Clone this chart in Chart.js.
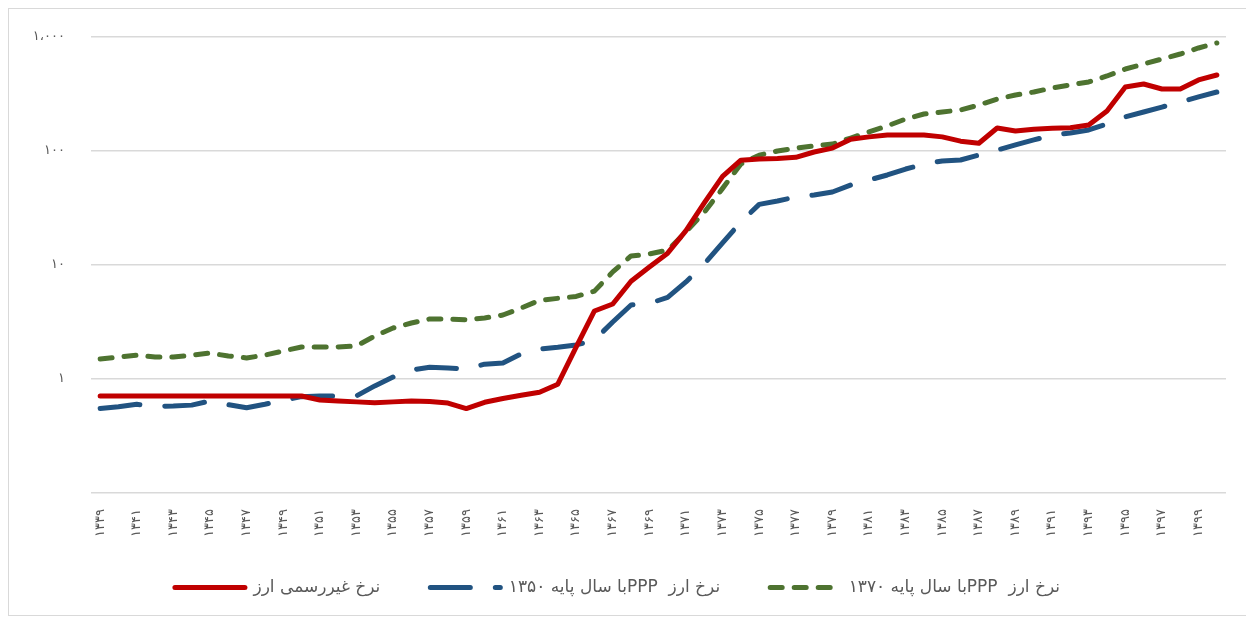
<!DOCTYPE html>
<html>
<head>
<meta charset="utf-8">
<script src="https://cdn.jsdelivr.net/npm/chart.js@4"></script>
<style>
  html, body { margin: 0; padding: 0; background: #fff; overflow: hidden; }
  #wrap {
    position: absolute; left: 8px; top: 8px;
    width: 1240px; height: 608px;
    border: 1px solid #d9d9d9; box-sizing: border-box;
  }
</style>
</head>
<body>
<div id="wrap"><canvas id="rateChart"></canvas></div>
<script>
// ************** categories (solar years) *******************
const years = [1339, 1340, 1341, 1342, 1343, 1344, 1345, 1346, 1347, 1348,
  1349, 1350, 1351, 1352, 1353, 1354, 1355, 1356, 1357, 1358,
  1359, 1360, 1361, 1362, 1363, 1364, 1365, 1366, 1367, 1368,
  1369, 1370, 1371, 1372, 1373, 1374, 1375, 1376, 1377, 1378,
  1379, 1380, 1381, 1382, 1383, 1384, 1385, 1386, 1387, 1388,
  1389, 1390, 1391, 1392, 1393, 1394, 1395, 1396, 1397, 1398,
  1399, 1400];

// unofficial (market) rate
const marketRate = [0.71, 0.71, 0.71, 0.71, 0.71, 0.71, 0.71, 0.71, 0.71, 0.71,
  0.71, 0.71, 0.655, 0.64, 0.63, 0.62, 0.63, 0.64, 0.635, 0.615,
  0.55, 0.625, 0.675, 0.72, 0.765, 0.9, 1.9, 3.95, 4.55, 7.2,
  9.6, 12.7, 20, 35, 60, 83, 85, 86, 88, 98,
  106, 127, 133, 138, 138, 138, 133, 122, 117, 159,
  150, 155, 158, 160, 169, 224, 364, 387, 350, 350,
  420, 464];

// PPP rate, base year 1350
const ppp1350 = [0.55, 0.57, 0.6, 0.575, 0.58, 0.59, 0.64, 0.595, 0.56, 0.6,
  0.65, 0.7, 0.71, 0.71, 0.71, 0.87, 1.04, 1.2, 1.27, 1.25,
  1.22, 1.35, 1.38, 1.66, 1.83, 1.9, 1.99, 2.2, 3.16, 4.46,
  4.6, 5.2, 7.1, 10.2, 15.6, 23.9, 34, 36.4, 39.5, 41.1,
  43.7, 50.3, 55.7, 61.6, 69.5, 76.9, 81.7, 83.4, 92.2, 102,
  113, 125, 138, 144, 153, 173, 199, 220, 243, 269,
  298, 329];

// PPP rate, base year 1370
const ppp1370 = [1.5, 1.56, 1.62, 1.56, 1.56, 1.62, 1.69, 1.59, 1.53, 1.62,
  1.76, 1.91, 1.91, 1.91, 1.95, 2.38, 2.8, 3.1, 3.36, 3.36,
  3.3, 3.43, 3.64, 4.2, 4.9, 5.1, 5.3, 5.9, 8.7, 12,
  12.5, 13.5, 19.5, 29, 47, 77, 92, 100, 106, 111,
  115, 130, 147, 166, 191, 211, 220, 229, 253, 286,
  310, 329, 357, 380, 403, 455, 524, 580, 641, 709,
  801, 886];

// y axis (log) ticks
const yTickValues = [0.1, 1, 10, 100, 1000];
const yTickLabels = ['', '۱', '۱۰', '۱۰۰', '۱،۰۰۰'];

const seriesNames = ['نرخ غیررسمی ارز', 'نرخ ارز  PPPبا سال پایه ۱۳۵۰', 'نرخ ارز  PPPبا سال پایه ۱۳۷۰'];

function toFa(s) {
  return String(s).replace(/\d/g, d => '۰۱۲۳۴۵۶۷۸۹'[d]);
}

const textColor = '#595959';
const faFont = 'DejaVu Sans';

// legend padding also spaces the items apart, so pull the row back up a bit
// and let its (clipped) box run to the bottom of the canvas
const liftLegend = {
  id: 'liftLegend',
  afterLayout(chart) {
    chart.legend.top -= 10;
    chart.legend.bottom = chart.height;
  }
};

new Chart(document.getElementById('rateChart'), {
  type: 'line',
  data: {
    labels: years.map(String),
    datasets: [{
      label: seriesNames[0],
      data: marketRate,
      borderColor: '#C00000',
      backgroundColor: '#C00000',
      borderWidth: 5
    }, {
      label: seriesNames[1],
      data: ppp1350,
      borderColor: '#215381',
      backgroundColor: '#215381',
      borderWidth: 5,
      borderDash: [40, 25]
    }, {
      label: seriesNames[2],
      data: ppp1370,
      borderColor: '#4E7330',
      backgroundColor: '#4E7330',
      borderWidth: 5,
      borderDash: [12, 12]
    }]
  },
  options: {
    responsive: true,
    maintainAspectRatio: false,
    animation: false,
    datasets: {
      line: {
        pointRadius: 0,
        tension: 0,
        fill: false,
        borderCapStyle: 'round',
        borderJoinStyle: 'round'
      }
    },
    layout: { padding: { top: 28, right: 21, bottom: 36, left: 0 } },
    plugins: {
      tooltip: { enabled: false },
      legend: {
        position: 'bottom',
        textDirection: 'rtl',
        maxHeight: 40,
        labels: {
          usePointStyle: true,
          pointStyleWidth: 70,
          padding: 50,
          color: textColor,
          font: { family: faFont, size: 17 },
          // draw each swatch as the series line, dashes included
          generateLabels: chart => chart.data.datasets.map((ds, i) => ({
            text: ds.label,
            datasetIndex: i,
            hidden: false,
            fontColor: textColor,
            fillStyle: ds.borderColor,
            strokeStyle: ds.borderColor,
            lineWidth: ds.borderWidth,
            lineDash: ds.borderDash || [],
            lineCap: 'round',
            pointStyle: 'line'
          }))
        }
      }
    },
    scales: {
      x: {
        offset: true,
        grid: { display: false },
        border: { display: false },
        ticks: {
          autoSkip: false,
          minRotation: 90,
          maxRotation: 90,
          padding: 8,
          color: textColor,
          font: { family: faFont, size: 13 },
          callback: (v, i) => (i % 2 === 0 ? toFa(years[i]) : '')
        },
        afterFit: scale => { scale.height = 46; }
      },
      y: {
        type: 'logarithmic',
        min: 0.1,
        max: 1000,
        afterBuildTicks: scale => {
          scale.ticks = yTickValues.map(v => ({ value: v }));
        },
        ticks: {
          padding: 0,
          color: textColor,
          font: { family: faFont, size: 13 },
          callback: (v, i) => yTickLabels[i]
        },
        grid: {
          color: '#d9d9d9',
          lineWidth: 1.5,
          drawTicks: true,
          tickLength: 26,
          tickColor: 'rgba(0,0,0,0)'
        },
        border: { display: false },
        afterFit: scale => { scale.width = 82; }
      }
    }
  },
  plugins: [liftLegend]
});
</script>
</body>
</html>
